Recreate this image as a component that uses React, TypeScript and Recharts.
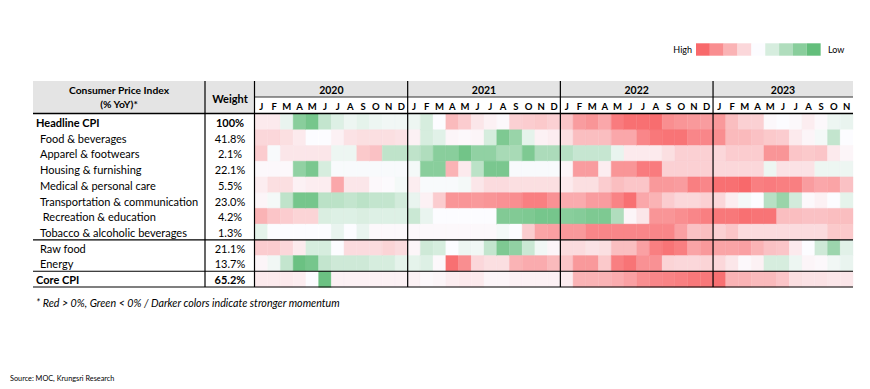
import { BarChart, Bar, XAxis, YAxis, Cell } from "recharts";

const ROW_LABELS = [
  "Headline CPI",
  "Food & beverages",
  "Apparel & footwears",
  "Housing & furnishing",
  "Medical & personal care",
  "Transportation & communication",
  " Recreation & education",
  "Tobacco & alcoholic beverages",
  "Raw food",
  "Energy",
  "Core CPI",
];
const WEIGHTS = ["100%", "41.8%", "2.1%", "22.1%", "5.5%", "23.0%", "4.2%", "1.3%", "21.1%", "13.7%", "65.2%"];
const BOLD_ROWS = ["Headline CPI", "Core CPI"];

const YEARS = ["2020", "2021", "2022", "2023"];
const MONTHS = ["J", "F", "M", "A", "M", "J", "J", "A", "S", "O", "N", "D"];

// momentum score, Jan 2020 .. Nov 2023 (+ = red, - = green)
const HEADLINE = [
  0.5, 0.5, -0.5, -3, -3.5, -1.5, -0.8, -0.4, -0.6, -0.4, -0.3, -0.3,
  -0.4, -1, 0, 1.8, 1.3, 0.6, 0.3, 0.1, 1.2, 1.3, 1.4, 1.2,
  1.5, 2.6, 2.8, 2.3, 3.5, 3.8, 3.8, 3.9, 3, 2.8, 2.7, 2.6,
  2.7, 1.7, 1.2, 1.2, 0.1, 0, 0.1, 0.4, 0.1, -0.4, -0.5,
];
const FOOD = [
  1, 1, 0.8, 0.5, 0, 0, 0.3, 0.7, 0.8, 0.8, 0.8, 0.7,
  0.3, -1, -0.7, 0.2, 0.1, 0.2, -1, -3.3, -2.6, -0.6, 0.3, 0.4,
  0.8, 1.7, 1.7, 1.7, 2.3, 2.3, 3.2, 3.6, 3.7, 3.7, 3.2, 3.2,
  3, 1.8, 1.8, 1.6, 1.4, 1.3, 0.5, 0.2, -0.2, -1.5, 0,
];
const APPAREL = [
  1.3, -0.1, 0.6, 0.6, 0.6, 0.6, -0.4, -0.4, 1.4, 1.6, -1.6, -1.6,
  -1.6, -2, -3, -3, -3.6, -2.8, -2.8, -2.2, -2.2, -3.3, -2.1, -2.1,
  -1.8, -1.4, -1.4, -1.4, -0.5, 0.5, 0.5, 0.5, 0.8, 1.2, 1.2, 1.2,
  1, 1.3, 1.3, 1.3, 2.8, 2.8, 1.5, 1.4, 1.5, 0.5, 0.2,
];
const HOUSING = [
  0.1, 0.1, 0.1, -2.8, -3.4, -1, -0.1, -0.1, -0.1, -0.1, -0.1, -0.1,
  -0.2, -3, -3, 2, 0.5, -1.7, -3.4, -3.4, -0.1, -0.1, -0.1, -0.1,
  0.2, 2.6, 2.6, 0.4, 2.8, 2.8, 3.5, 3.5, 1.2, 1.2, 1.2, 1.2,
  1, 1, 1, 1, -0.4, 0.7, 0.7, 0.7, -0.4, -0.4, -0.4,
];
const MEDICAL = [
  0.4, 0.8, 0.8, 0.3, 0.4, 0.4, 2.3, 0.6, 0.6, 0.1, 0.05, -0.2,
  0.4, -0.1, -0.1, -0.1, -0.2, 0.6, 0.9, 0.9, 0.8, 0.8, 0.8, 0.8,
  0.5, 0.8, 0.8, 1.3, 1.7, 1.5, 1.5, 2.7, 2.7, 2.6, 3.4, 3.2,
  3.8, 3.8, 4, 3.4, 3.5, 3.4, 3.4, 2.6, 2.3, 2.4, 1.6,
];
const TRANSPORT = [
  0.2, -0.2, -1.6, -3.5, -3.5, -1.7, -1.7, -1.5, -1.7, -1.5, -1.5, -1.1,
  -0.5, 0.3, 1.3, 2.8, 2.8, 2.7, 2.8, 2.9, 3, 3.4, 3.4, 2.9,
  2.2, 2.2, 2.6, 2.6, 3.3, 3.8, 2.3, 2, 1.3, 1, 1, 1.2,
  1, 0.4, -0.2, 0, -1.8, -2.6, -1.1, 0.1, 0.3, 0, -0.6,
];
const RECREATION = [
  2, 1.5, 1.3, 1.1, 1.1, -0.9, -0.8, -0.8, -0.9, -0.8, -0.8, -0.8,
  -1.3, -0.5, 0, 0, 0, 0, 0, -3.2, -3.2, -3.3, -3.5, -3.5,
  -3, -3.1, -3.3, -3.3, -2, 0.2, 0.6, 2.8, 2.8, 3, 3.2, 3.4,
  3.6, 3.6, 3.8, 3.7, 3.7, 1.7, 1.7, 1.6, 1.6, 1.7, 1.7,
];
const TOBACCO = [
  -0.6, 0, 0, 0, 0, 0, -0.5, 0, -0.5, 0.1, 0.1, 0.1,
  0.1, 0.1, 0.1, 0.1, 0.1, 0.1, 0.1, -0.2, 0, 1.3, 2.4, 2.5,
  2.7, 2.7, 3.2, 3.2, 3.2, 3.2, 3.2, 3.2, 3.2, 2.5, 1.6, 1.7,
  1.2, 1.5, 0.9, 0.9, 0.9, 0.9, 0.9, 0.9, 0.9, 1.4, 1.4,
];
const RAW_FOOD = [
  1.3, 1.3, 1, 0.5, -1, -1, 0, 0.9, 0.9, 0.9, 1.1, 0.9,
  0.2, -1.2, -1, 0, -0.4, -0.3, -1.5, -3.3, -2.8, -1.3, -0.3, 0.2,
  0.9, 0.9, 0.7, 0.8, 1.7, 1.7, 2.5, 3.4, 3.7, 3.4, 2.4, 2.7,
  2.4, 2.4, 2.5, 2, 1.6, 1.5, 0.5, 0, -1.2, -2.5, -0.7,
];
const ENERGY = [
  0.2, -0.3, -1.5, -3.8, -3.5, -1.5, -1.2, -1.2, -1.2, -1, -1, -0.6,
  -0.6, -0.8, 0.1, 3.8, 3, 1, 0.8, 0.8, 2, 2.2, 2.2, 1.8,
  1.5, 2.7, 2.7, 1.4, 3.4, 3.7, 2.9, 2.9, 1.1, 1, 1, 1.1,
  1, 0.6, 0.1, 0.3, -1, -1, -0.4, 0.2, 0.1, -0.3, -0.5,
];
const CORE = [
  0.5, 0.5, 0.5, 0.4, 0, -3.8, 0.3, 0.3, 0.3, 0.3, 0.3, 0.3,
  0.3, 0.1, 0.2, 0.4, 0.5, 0.5, 0.2, 0.2, 0.3, 0.3, 0.3, 0.3,
  0.4, 2, 2, 2, 2.2, 2.5, 3, 3.2, 3.3, 3.4, 3.6, 3.6,
  3.8, 2, 2, 1.8, 1.8, 1.5, 0.8, 0.7, 0.7, 0.6, 0.6,
];

const SERIES = [HEADLINE, FOOD, APPAREL, HOUSING, MEDICAL, TRANSPORT, RECREATION, TOBACCO, RAW_FOOD, ENERGY, CORE];
const LEGEND_STEPS = [4, 3, 2, 1, 0, -1, -2, -3, -4];

const N_MONTHS = HEADLINE.length;
const MONTH_LABELS = YEARS.flatMap(() => MONTHS).slice(0, N_MONTHS);
const MONTH_KEYS = MONTH_LABELS.map((_, i) => `m${i}`);
const MONTH_TICKS = MONTH_LABELS.map((_, i) => i + 0.5);

// layout
const W = 870;
const H = 389;
const TABLE_LEFT = 33;
const COL_SPLIT = 205;
const PLOT_LEFT = 255;
const PLOT_RIGHT = 853;
const HEAD_TOP = 81;
const YEAR_BOTTOM = 97;
const PLOT_TOP = 114;
const PLOT_BOTTOM = 287;
const CELL_W = (PLOT_RIGHT - PLOT_LEFT) / N_MONTHS;
const ROW_H = (PLOT_BOTTOM - PLOT_TOP) / ROW_LABELS.length;
const FONT = "Lato, 'Open Sans', sans-serif";

const RED = [248, 105, 107];
const MID = [252, 252, 255];
const GREEN = [99, 190, 123];

function heat(v: number) {
  const t = Math.min(1, Math.abs(v) / 4);
  const end = v >= 0 ? RED : GREEN;
  const c = MID.map((m, i) => Math.round(m + (end[i] - m) * t));
  return `rgb(${c[0]},${c[1]},${c[2]})`;
}

const chartData = ROW_LABELS.map((name) => {
  const row: Record<string, any> = { name };
  MONTH_KEYS.forEach((k) => (row[k] = 1));
  return row;
});

function RowTick(props: any) {
  const { y, payload } = props;
  const idx = ROW_LABELS.indexOf(payload.value);
  const label = payload.value as string;
  const bold = BOLD_ROWS.includes(label);
  return (
    <g fontFamily={FONT} fontSize={11} fill="#000" fontWeight={bold ? 700 : 400}>
      <text x={bold ? TABLE_LEFT + 3 : TABLE_LEFT + 7} y={y + 0.5} dominantBaseline="central" style={{ whiteSpace: "pre" }}>
        {label}
      </text>
      <text x={(COL_SPLIT + PLOT_LEFT) / 2} y={y + 0.5} textAnchor="middle" dominantBaseline="central">
        {WEIGHTS[idx]}
      </text>
    </g>
  );
}

function MonthTick(props: any) {
  const { x, payload } = props;
  return (
    <text
      x={x}
      y={(YEAR_BOTTOM + PLOT_TOP) / 2 + 1}
      textAnchor="middle"
      dominantBaseline="central"
      fontFamily={FONT}
      fontSize={9.5}
      fontWeight={700}
      fill="#000"
    >
      {MONTH_LABELS[Math.floor(payload.value)]}
    </text>
  );
}

export default function App() {
  const rowLines = [8, 10, 11].map((k) => PLOT_TOP + ROW_H * k);
  const yearLines = [1, 2, 3].map((k) => PLOT_LEFT + CELL_W * 12 * k);

  return (
    <div style={{ position: "absolute", left: 0, top: 0, width: W, height: H, background: "#fff" }}>
      <svg width={W} height={H} style={{ position: "absolute", left: 0, top: 0 }}>
        <rect x={TABLE_LEFT} y={HEAD_TOP} width={PLOT_LEFT - TABLE_LEFT} height={PLOT_TOP - HEAD_TOP} fill="#E4E4E4" />
        <rect x={PLOT_LEFT} y={HEAD_TOP} width={PLOT_RIGHT - PLOT_LEFT} height={YEAR_BOTTOM - HEAD_TOP} fill="#E4E4E4" />
      </svg>

      <div style={{ position: "absolute", left: 0, top: 0 }}>
        <BarChart
          width={W}
          height={H}
          data={chartData}
          layout="vertical"
          barCategoryGap={0}
          barGap={0}
          margin={{ top: YEAR_BOTTOM, right: W - PLOT_RIGHT, bottom: H - PLOT_BOTTOM, left: TABLE_LEFT }}
        >
          <XAxis
            type="number"
            orientation="top"
            domain={[0, N_MONTHS]}
            ticks={MONTH_TICKS}
            interval={0}
            height={PLOT_TOP - YEAR_BOTTOM}
            axisLine={false}
            tickLine={false}
            tick={<MonthTick />}
          />
          <YAxis
            type="category"
            dataKey="name"
            width={PLOT_LEFT - TABLE_LEFT}
            interval={0}
            axisLine={false}
            tickLine={false}
            tick={<RowTick />}
          />
          {MONTH_KEYS.map((k, i) => (
            <Bar key={k} dataKey={k} stackId="heat" isAnimationActive={false}>
              {SERIES.map((s, r) => (
                <Cell key={r} fill={heat(s[i])} stroke={heat(s[i])} strokeWidth={0.4} />
              ))}
            </Bar>
          ))}
        </BarChart>
      </div>

      <svg width={W} height={H} style={{ position: "absolute", left: 0, top: 0, pointerEvents: "none" }} fontFamily={FONT}>
        {/* header */}
        <text x={(TABLE_LEFT + COL_SPLIT) / 2} y={90} textAnchor="middle" dominantBaseline="central" fontSize={10.3} fontWeight={700}>
          Consumer Price Index
        </text>
        <text x={(TABLE_LEFT + COL_SPLIT) / 2} y={104} textAnchor="middle" dominantBaseline="central" fontSize={10.3} fontWeight={700}>
          (% YoY)*
        </text>
        <text x={(COL_SPLIT + PLOT_LEFT) / 2} y={98} textAnchor="middle" dominantBaseline="central" fontSize={11} fontWeight={700}>
          Weight
        </text>
        {YEARS.map((yr, k) => {
          const n = Math.min(12, N_MONTHS - k * 12);
          return (
            <text
              key={yr}
              x={PLOT_LEFT + CELL_W * (k * 12 + n / 2)}
              y={(HEAD_TOP + YEAR_BOTTOM) / 2 + 1}
              textAnchor="middle"
              dominantBaseline="central"
              fontSize={10.5}
              fontWeight={700}
            >
              {yr}
            </text>
          );
        })}

        {/* grid lines */}
        <line x1={PLOT_LEFT} x2={PLOT_RIGHT} y1={YEAR_BOTTOM} y2={YEAR_BOTTOM} stroke="#333" strokeWidth={1} />
        <line x1={TABLE_LEFT} x2={PLOT_RIGHT} y1={PLOT_TOP - 0.5} y2={PLOT_TOP - 0.5} stroke="#000" strokeWidth={1.5} />
        {rowLines.map((y, i) => (
          <line key={i} x1={TABLE_LEFT} x2={PLOT_RIGHT} y1={y} y2={y} stroke="#000" strokeWidth={1.2} />
        ))}
        {[COL_SPLIT, PLOT_LEFT - 0.5, ...yearLines].map((x, i) => (
          <line key={i} x1={x} x2={x} y1={HEAD_TOP} y2={PLOT_BOTTOM} stroke="#000" strokeWidth={1.2} />
        ))}

        {/* legend */}
        <text x={692} y={49.5} textAnchor="end" dominantBaseline="central" fontSize={9}>
          High
        </text>
        {LEGEND_STEPS.map((v, i) => (
          <rect key={i} x={696 + i * 13.85} y={43.3} width={13.85} height={12.4} fill={heat(v)} />
        ))}
        <text x={828} y={49.5} dominantBaseline="central" fontSize={9}>
          Low
        </text>

        <text x={36} y={302} dominantBaseline="central" fontSize={10.7} fontStyle="italic">
          {"* Red > 0%, Green < 0% / Darker colors indicate stronger momentum"}
        </text>
        <text x={10} y={378} dominantBaseline="central" fontSize={7.3}>
          Source: MOC, Krungsri Research
        </text>
      </svg>
    </div>
  );
}
